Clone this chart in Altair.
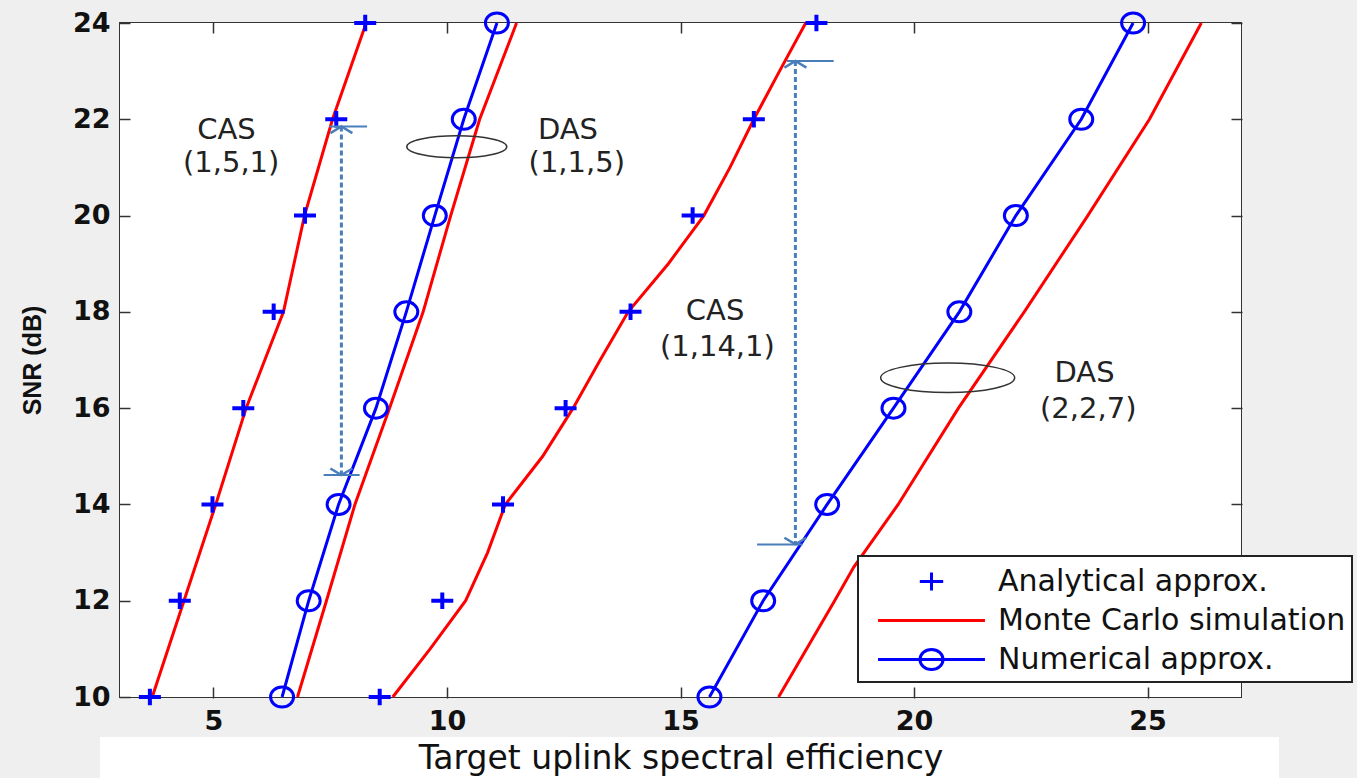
import altair as alt
import pandas as pd

# ---------------- data ----------------
snr = [10, 12, 14, 16, 18, 20, 22, 24]

# Analytical approx. (+ markers)
ana_cas151 = [3.64, 4.28, 4.98, 5.64, 6.29, 6.96, 7.63, 8.25]
ana_cas1141 = [8.56, 9.90, 11.20, 12.54, 13.93, 15.26, 16.57, 17.91]

# Numerical approx. (o markers + line)
num_das115 = [6.47, 7.04, 7.68, 8.48, 9.13, 9.74, 10.36, 11.07]
num_das227 = [15.62, 16.77, 18.14, 19.56, 20.97, 22.18, 23.58, 24.69]

# Monte Carlo simulation (red lines)
mc_cas151_snr = [10, 12, 14, 16, 18, 20, 22, 24]
mc_cas151 = [3.69, 4.37, 5.05, 5.70, 6.50, 6.95, 7.55, 8.27]
mc_das115_snr = [10, 12, 14, 16, 18, 20, 22, 24]
mc_das115 = [6.80, 7.42, 8.03, 8.77, 9.49, 10.08, 10.70, 11.49]
mc_cas1141_snr = [10, 11, 12, 13, 14, 15, 16, 17, 18, 19, 20, 21, 22, 23, 24]
mc_cas1141 = [8.84, 9.64, 10.40, 10.87, 11.25, 12.05, 12.70, 13.28, 13.88,
              14.74, 15.50, 16.06, 16.57, 17.12, 17.68]
mc_das227_snr = [10, 12, 12.7, 14, 16, 18, 20, 22, 24]
mc_das227 = [17.10, 18.30, 18.71, 19.66, 20.95, 22.36, 23.72, 25.04, 26.15]

# annotation labels (data coordinates)
note_text = ["CAS", "(1,5,1)", "DAS", "(1,1,5)", "CAS", "(1,14,1)", "DAS", "(2,2,7)"]
note_x = [5.28, 5.38, 12.59, 12.78, 15.74, 15.79, 23.65, 23.73]
note_y = [21.78, 21.09, 21.78, 21.09, 18.02, 17.28, 16.74, 15.99]

# ellipses (centres)
ell1_x, ell1_y = [10.21], [21.43]
ell2_x, ell2_y = [20.72], [16.63]

# double arrows
arrow_x = [7.74, 17.46]
arrow_top = [21.85, 23.21]
arrow_bot = [14.61, 13.17]
cap_y = [21.85, 14.61, 23.21, 13.17]
cap_x1 = [7.48, 7.36, 17.28, 16.64]
cap_x2 = [8.29, 8.13, 18.28, 17.61]

kinds = ["Analytical approx.", "Monte Carlo simulation", "Numerical approx."]
x_ticks = [5, 10, 15, 20, 25]
y_ticks = [10, 12, 14, 16, 18, 20, 22, 24]
y_ticks_right = [14, 16, 18, 20, 22, 24]   # lower ones hidden by the legend

# ---------------- tables ----------------
def series(xs, ys, name):
    return pd.DataFrame({"x": xs, "snr": ys, "curve": name})

df_mc = pd.concat([
    series(mc_cas151, mc_cas151_snr, "CAS (1,5,1)"),
    series(mc_das115, mc_das115_snr, "DAS (1,1,5)"),
    series(mc_cas1141, mc_cas1141_snr, "CAS (1,14,1)"),
    series(mc_das227, mc_das227_snr, "DAS (2,2,7)"),
])
df_num = pd.concat([
    series(num_das115, snr, "DAS (1,1,5)"),
    series(num_das227, snr, "DAS (2,2,7)"),
])
df_ana = pd.concat([
    series(ana_cas151, snr, "CAS (1,5,1)"),
    series(ana_cas1141, snr, "CAS (1,14,1)"),
])
df_notes = pd.DataFrame({"x": note_x, "snr": note_y, "t": note_text})
df_arrow = pd.DataFrame({"x": arrow_x, "top": arrow_top, "bot": arrow_bot})
df_caps = pd.DataFrame({"x1": cap_x1, "x2": cap_x2, "y": cap_y})
df_kinds = pd.DataFrame({"kind": kinds})
df_one = pd.DataFrame({"kind": kinds[:1]})

# ---------------- styles ----------------
BLUE = "#0000ff"
RED = "#ff0000"
ARROW = "#4a7ebb"
PLUS = "M-1,0L1,0M0,-0.75L0,0.75"
OVAL = "M-1,0A1,0.87 0 1,1 1,0A1,0.87 0 1,1 -1,0"
ELL = "M-1,0A1,0.22 0 1,1 1,0A1,0.22 0 1,1 -1,0"
HEAD_UP = "M-1,0.6L0,0L1,0.6"
HEAD_DN = "M-1,-0.6L0,0L1,-0.6"
LEG_SHAPES = [
    "M-0.65,0L0.65,0M0,-0.5L0,0.5",
    "M-2.97,0L2.97,0",
    "M-2.97,0L2.97,0M-0.64,0A0.64,0.56 0 1,1 0.64,0A0.64,0.56 0 1,1 -0.64,0",
]

xscale = alt.Scale(domain=[3, 27], nice=False, zero=False)
yscale = alt.Scale(domain=[10, 24], nice=False, zero=False)

LABEL_FONT = "DejaVu Sans"

x_bottom = alt.Axis(values=x_ticks, format="d", offset=-10, tickSize=11, domain=False,
                    grid=False, labelFont=LABEL_FONT, labelFontSize=27,
                    labelFontWeight="bold", labelColor="#111", labelPadding=10,
                    tickColor="#333", tickWidth=1.5,
                    title="Target uplink spectral efficiency", titleFont=LABEL_FONT,
                    titleFontSize=33, titleFontWeight="normal", titleColor="#111",
                    titleBaseline="alphabetic", titleY=81, zindex=1)
y_left = alt.Axis(values=y_ticks, offset=-10, tickSize=11, domain=False, grid=False,
                  labelFont=LABEL_FONT, labelFontSize=27, labelFontWeight="bold",
                  labelColor="#111", labelPadding=9, tickColor="#333", tickWidth=1.5,
                  title="SNR (dB)", titleFont="Liberation Sans", titleFontSize=25,
                  titleFontWeight="bold", titleColor="#111", titleX=-98, titleY=337,
                  titleBaseline="middle", zindex=1)
x_top = alt.Axis(orient="top", values=x_ticks, offset=-10, tickSize=11, domain=False,
                 grid=False, labels=False, title=None, tickColor="#333", tickWidth=1.5,
                 zindex=1)
y_right = alt.Axis(orient="right", values=y_ticks_right, offset=-10, tickSize=11,
                   domain=False, grid=False, labels=False, title=None, tickColor="#333",
                   tickWidth=1.5, zindex=1)

def X(axis=None):
    return alt.X("x:Q", scale=xscale, axis=axis)

def Y(field="snr:Q", axis=None):
    return alt.Y(field, scale=yscale, axis=axis)

# white plot area and white band behind the x title (slide decoration)
plot_bg = alt.Chart(df_one).mark_rect(color="white").encode(
    x=alt.value(0), x2=alt.value(1121), y=alt.value(0), y2=alt.value(674))
band = alt.Chart(df_one).mark_rect(color="white").encode(
    x=alt.value(-20), x2=alt.value(1159), y=alt.value(714), y2=alt.value(762))

mc = alt.Chart(df_mc).mark_line(color=RED, strokeWidth=3).encode(
    x=X(x_bottom), y=Y(axis=y_left), detail="curve:N", order="snr:Q")

num_line = alt.Chart(df_num).mark_line(color=BLUE, strokeWidth=3).encode(
    x=X(), y=Y(), detail="curve:N", order="snr:Q")
num_pts = alt.Chart(df_num).mark_point(shape=OVAL, size=529, filled=False,
                                       strokeWidth=3, color=BLUE, opacity=1).encode(
    x=X(), y=Y())
ana_pts = alt.Chart(df_ana).mark_point(shape=PLUS, size=484, filled=False,
                                       strokeWidth=4, color=BLUE, opacity=1).encode(
    x=X(x_top), y=Y(axis=y_right))

notes = alt.Chart(df_notes).mark_text(font=LABEL_FONT, fontSize=29, color="#222",
                                      baseline="middle", align="center").encode(
    x=X(), y=Y(), text="t:N")

ell1 = alt.Chart(pd.DataFrame({"x": ell1_x, "snr": ell1_y})).mark_point(
    shape=ELL, size=10000, filled=False, strokeWidth=1.5, color="#333", opacity=1
).encode(x=X(), y=Y())
ell2 = alt.Chart(pd.DataFrame({"x": ell2_x, "snr": ell2_y})).mark_point(
    shape=ELL, size=17956, filled=False, strokeWidth=1.5, color="#333", opacity=1
).encode(x=X(), y=Y())

shafts = alt.Chart(df_arrow).mark_rule(color=ARROW, strokeWidth=3, strokeDash=[5, 3]).encode(
    x=X(), y=Y("top:Q"), y2="bot:Q")
caps = alt.Chart(df_caps).mark_rule(color=ARROW, strokeWidth=2).encode(
    x=alt.X("x1:Q", scale=xscale, axis=None), x2="x2:Q", y=Y("y:Q"))
heads_up = alt.Chart(df_arrow).mark_point(shape=HEAD_UP, size=484, filled=False,
                                          strokeWidth=2.5, color=ARROW, opacity=1).encode(
    x=X(), y=Y("top:Q"))
heads_dn = alt.Chart(df_arrow).mark_point(shape=HEAD_DN, size=484, filled=False,
                                          strokeWidth=2.5, color=ARROW, opacity=1).encode(
    x=X(), y=Y("bot:Q"))

leg = alt.Legend(title=None, orient="none", legendX=738, legendY=533,
                 fillColor="white", strokeColor="#222", padding=6,
                 symbolSize=1296, symbolStrokeWidth=3, symbolFillColor="transparent",
                 symbolOffset=48, labelOffset=47, labelFont=LABEL_FONT,
                 labelFontSize=30, labelColor="#111", labelLimit=1000,
                 rowPadding=4)
legend_layer = alt.Chart(df_kinds).mark_point(filled=False, opacity=1).encode(
    color=alt.Color("kind:N", scale=alt.Scale(domain=kinds, range=[BLUE, RED, BLUE]), legend=leg),
    shape=alt.Shape("kind:N", scale=alt.Scale(domain=kinds, range=LEG_SHAPES), legend=leg),
).transform_filter("false")

chart = alt.layer(
    plot_bg, band, mc, num_line, num_pts, ana_pts, notes, ell1, ell2,
    shafts, caps, heads_up, heads_dn, legend_layer
).resolve_axis(x="independent", y="independent").properties(
    width=1121, height=674,
    autosize=alt.AutoSizeParams(type="none"),
    padding={"left": 120, "top": 23, "right": 116, "bottom": 81},
    background="#efefef",
).configure_view(fill="white", stroke="#333", strokeWidth=2
).configure_legend(strokeWidth=2)

chart.save("out.html", embed_options={"renderer": "svg", "actions": False})
